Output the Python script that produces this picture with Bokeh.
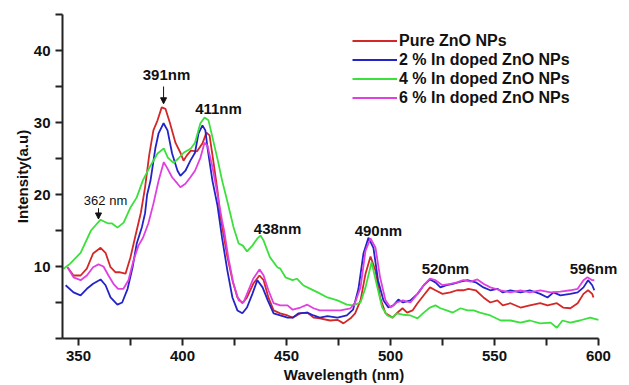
from bokeh.plotting import figure
from bokeh.models import (Range1d, FixedTicker, Label, Arrow, NormalHead, Legend, LegendItem, Title)
from bokeh.embed import file_html
from bokeh.resources import INLINE

# ---------------- data ----------------
pure_x = [344.7, 347.6, 351, 354, 357, 360.6, 363, 365.4, 367.8, 370, 372.6, 375, 377.4, 380, 382, 384, 386, 388,
          390, 391.8, 394, 396.6, 399, 400.5, 402, 404, 407, 409.6, 411.5, 413, 415, 416.8, 418, 419.7, 421.6,
          424, 426.4, 428.8, 431, 434, 437, 439, 441.3, 443.8, 447, 450.5, 453, 456.7, 460, 463, 466, 471, 474.5,
          477.4, 480.8, 483, 485.6, 488, 490.4, 492.8, 495, 497.6, 501, 503, 505.8, 508, 510.6, 513, 516, 519,
          521.6, 525, 528.8, 532, 535, 537.5, 541, 544.7, 548, 551.4, 554, 557.7, 562.5, 567, 572, 575.5, 580,
          583, 586.5, 590, 592.8, 595, 597, 597.6]
pure_y = [9.9, 8.75, 8.75, 9.7, 11.8, 12.6, 11.9, 9.9, 9.2, 9.2, 9.0, 11.3, 14.3, 17.5, 21, 25.5, 28.9, 30.3,
          32.1, 31.9, 29.9, 27.2, 25.8, 24.7, 25.4, 26.1, 26, 27.1, 28.6, 28.2, 24.3, 20.6, 17.4, 14.5, 11.3,
          8.1, 5.7, 4.9, 5.7, 7.6, 8.75, 8.1, 5.7, 3.9, 3.5, 3.2, 2.9, 3.5, 3.6, 2.9, 2.8, 2.5, 2.6,
          2.1, 2.8, 3.5, 5.3, 9.0, 11.4, 9.4, 5.7, 3.5, 2.9, 3.5, 4.2, 3.6, 3.9, 4.9, 6.0, 7.1,
          6.7, 6.2, 6.4, 6.7, 6.7, 6.9, 6.7, 5.7, 5.0, 5.3, 4.6, 4.9, 4.3, 4.6, 4.9, 4.6, 4.9,
          4.3, 4.2, 4.9, 6.2, 6.7, 6.2, 5.7]

in2_x = [343.8, 347.6, 351, 354, 357, 360.6, 363, 365.4, 368.7, 371, 373.6, 376, 378, 380.5, 382, 383, 384.6, 387,
         388.5, 390.9, 392.8, 395, 397.6, 399, 401.4, 403.8, 406, 407.7, 409.6, 411, 412, 414.4, 416.8, 419,
         421.6, 424, 426.4, 428.8, 431, 433.6, 436, 438.5, 441, 443.8, 447, 450.5, 453, 455.8, 460, 463, 466,
         469.7, 474.5, 479, 482, 484.6, 487, 489.4, 491.8, 494, 496.6, 499, 501.4, 503.8, 506, 509.6, 513, 516,
         519, 521.6, 524, 527, 530, 533.7, 537, 541, 544.7, 548, 551.4, 554, 557.7, 562.5, 567, 572, 575.5,
         578.4, 581.7, 586.5, 590, 592.8, 595, 597, 598]
in2_y = [7.4, 6.4, 6.0, 6.9, 7.6, 8.2, 7.4, 5.7, 4.7, 5.0, 6.9, 9.9, 13.2, 15.5, 17.4, 20, 21.9, 26.5,
         28.5, 29.9, 28.9, 25.7, 23.3, 22.6, 23.3, 24.7, 25.8, 28.5, 29.6, 28.9, 26.5, 21.9, 18.5, 14.0,
         9.4, 5.7, 3.9, 3.5, 4.3, 6.2, 8.1, 7.1, 5.3, 3.5, 3.2, 2.9, 2.9, 3.5, 3.6, 3.2, 2.9,
         3.1, 2.9, 3.2, 4.0, 6.9, 11.8, 14.0, 12.6, 8.1, 5.3, 4.3, 4.6, 5.4, 5.0, 5.3, 6.2, 7.4,
         8.2, 7.8, 7.1, 7.4, 7.6, 7.9, 8.1, 7.8, 7.1, 6.7, 6.9, 6.4, 6.7, 6.4, 6.7, 6.2, 5.7,
         6.4, 6.0, 6.2, 6.4, 7.1, 8.1, 7.4, 6.7]

in4_x = [342.8, 346, 351, 356, 360.6, 364, 366, 368.7, 371.7, 375, 378, 381, 384.6, 388, 391, 393, 395.7, 398,
         400.5, 404, 406, 408.6, 410.6, 412.5, 415, 417, 419, 421.6, 424.5, 427, 429, 431, 433.6, 436, 437.5,
         439, 442, 445.6, 447, 449.5, 452.9, 455, 458, 461.5, 465, 469.7, 474.5, 479, 482, 485.6, 488, 490.9,
         493.7, 496, 498.5, 501, 503, 506, 509.6, 513, 516, 519, 521.6, 524, 527, 530, 533.7, 537, 540,
         543, 548, 553, 557.7, 562.5, 567, 572, 577, 580, 582.7, 586.5, 591, 596, 600]
in4_y = [9.7, 10.4, 11.9, 15.0, 16.5, 16.0, 16.0, 15.4, 16.1, 18.2, 19.6, 22.0, 24.0, 25.7, 26.4, 25.1, 24.4, 25.0,
         25.8, 26.4, 27.2, 29.9, 30.7, 30.3, 27.2, 24.7, 22.0, 19.0, 15.5, 13.2, 12.9, 12.1, 12.9, 13.9, 14.3,
         13.6, 11.3, 9.9, 9.7, 8.5, 8.1, 8.3, 7.4, 6.9, 6.4, 5.7, 5.3, 4.7, 4.6, 5.0, 7.1, 10.6,
         7.1, 4.3, 3.2, 2.9, 3.5, 3.3, 3.2, 2.8, 3.6, 4.3, 4.6, 4.2, 3.9, 3.6, 4.2, 3.9, 3.9,
         3.6, 3.2, 2.5, 2.5, 2.2, 2.5, 2.1, 2.2, 1.5, 2.5, 2.2, 2.5, 2.9, 2.6]

in6_x = [344.7, 347.6, 351, 354, 357, 359.6, 362, 364.4, 366.8, 369, 371.6, 374, 376.4, 378.8, 381, 383.6, 386,
         388.5, 391, 392.8, 395, 397.6, 399, 401.4, 403.8, 406, 408.6, 410.6, 412, 414.4, 416.8, 419, 420,
         422, 424.5, 427, 429.3, 431.7, 434, 437, 439, 441.3, 443.8, 447, 450.5, 453, 456.7, 460, 463, 466,
         471, 476, 480.8, 483, 485.6, 488, 490.4, 492.8, 495, 497.6, 500, 503, 506, 509.6, 513, 516, 519,
         521.6, 525, 528.8, 532, 535, 538.5, 541.8, 544.7, 548, 553, 557.7, 562.5, 567, 572, 577, 581.7,
         586.5, 590, 592.8, 594.7, 597, 598]
in6_y = [9.9, 8.5, 8.1, 8.75, 9.9, 10.3, 10.0, 8.75, 7.6, 6.9, 6.9, 8.1, 10.8, 12.9, 14.0, 16.0, 18.7,
         21.9, 24.5, 23.6, 22.4, 21.5, 21.0, 21.5, 22.4, 23.3, 25.1, 27.2, 26.8, 23.8, 20.1, 16.4, 15.0,
         11.3, 7.6, 5.3, 5.0, 6.7, 8.3, 9.6, 8.75, 6.7, 4.9, 4.6, 4.6, 4.0, 4.3, 4.7, 4.2, 3.9,
         3.9, 3.9, 4.2, 5.0, 7.1, 12.2, 13.9, 12.6, 8.5, 5.3, 4.3, 5.0, 5.3, 5.0, 6.2, 7.4, 8.3,
         8.1, 7.4, 7.6, 7.8, 8.1, 7.9, 8.2, 7.6, 7.1, 6.7, 6.4, 6.7, 6.4, 6.7, 6.4, 6.5,
         6.7, 6.9, 8.1, 8.5, 8.1, 8.1]

series_names = ["Pure ZnO NPs", "2 % In doped ZnO NPs", "4 % In doped ZnO NPs", "6 % In doped ZnO NPs"]
series_colors = ["#d42828", "#2323c8", "#3ce03c", "#e040e0"]

x_ticks = [350, 400, 450, 500, 550, 600]
x_minor = [375, 425, 475, 525, 575]
y_ticks = [10, 20, 30, 40]
y_minor = [0, 5, 15, 25, 35, 45]

peak_text = ["391nm", "411nm", "362 nm", "438nm", "490nm", "520nm", "596nm"]
peak_x = [392.3, 417.3, 363.0, 445.7, 494.2, 526.4, 597.6]
peak_y = [36.7, 31.9, 19.2, 15.3, 15.0, 9.7, 9.7]
peak_size = ["15px", "15px", "13px", "15px", "15px", "15px", "15px"]
peak_weight = ["bold", "bold", "normal", "bold", "bold", "bold", "bold"]

arrow_x = [390.9, 359.6]
arrow_y0 = [35.0, 18.1]
arrow_y1 = [32.6, 16.6]

FONT = "Liberation Sans"

p = figure(width=629, height=385, output_backend="svg", toolbar_location=None,
           x_range=Range1d(342.3, 613), y_range=Range1d(0, 45),
           min_border_left=62, min_border_right=4, min_border_top=14, min_border_bottom=47)
p.outline_line_color = None
p.xgrid.visible = False
p.ygrid.visible = False
p.background_fill_color = "white"
p.border_fill_color = "white"

for ax in (p.xaxis[0], p.yaxis[0]):
    ax.axis_line_width = 2
    ax.axis_line_color = "#222222"
    ax.major_tick_line_width = 2
    ax.minor_tick_line_width = 2
    ax.major_tick_line_color = "#222222"
    ax.minor_tick_line_color = "#222222"
    ax.major_tick_in = 0
    ax.minor_tick_in = 0
    ax.major_tick_out = 7
    ax.minor_tick_out = 7
    ax.major_label_text_font = FONT
    ax.major_label_text_font_style = "bold"
    ax.major_label_text_font_size = "15px"
    ax.major_label_text_color = "#111111"
    ax.major_label_standoff = 5

p.xaxis[0].ticker = FixedTicker(ticks=x_ticks, minor_ticks=x_minor)
p.yaxis[0].ticker = FixedTicker(ticks=y_ticks, minor_ticks=y_minor)
p.xaxis[0].bounds = (342.3, 600)

ytitle = Title(text="Intensity(a.u)", align="center", offset=26, standoff=0,
               text_font=FONT, text_font_size="15px", text_font_style="bold", text_color="#111111")
p.add_layout(ytitle, "left")
xtitle = Title(text="Wavelength (nm)", align="center", offset=-21, standoff=0,
               text_font=FONT, text_font_size="15px", text_font_style="bold", text_color="#111111")
p.add_layout(xtitle, "below")

xs = [pure_x, in2_x, in4_x, in6_x]
ys = [pure_y, in2_y, in4_y, in6_y]
items = []
for name, color, sx, sy in zip(series_names, series_colors, xs, ys):
    r = p.line(sx, sy, line_color=color, line_width=1.8)
    items.append(LegendItem(label=name, renderers=[r]))

legend = Legend(items=items, location=(290, 231), border_line_color=None,
                background_fill_alpha=0, padding=0, margin=0, spacing=0,
                glyph_width=45, glyph_height=19, label_height=19, label_standoff=2,
                label_text_font=FONT, label_text_font_style="bold",
                label_text_font_size="16px", label_text_color="#111111",
                label_text_baseline="middle")
p.add_layout(legend, "center")

for t, x, y, s, w in zip(peak_text, peak_x, peak_y, peak_size, peak_weight):
    p.add_layout(Label(x=x, y=y, text=t, text_font=FONT, text_font_size=s, text_font_style=w,
                       text_align="center", text_baseline="middle", text_color="#111111"))

for x, y0, y1 in zip(arrow_x, arrow_y0, arrow_y1):
    p.add_layout(Arrow(x_start=x, y_start=y0, x_end=x, y_end=y1, line_width=1, line_color="#111111",
                       end=NormalHead(size=6, fill_color="#111111", line_color="#111111")))

open("out.html", "w").write(file_html(p, INLINE))
